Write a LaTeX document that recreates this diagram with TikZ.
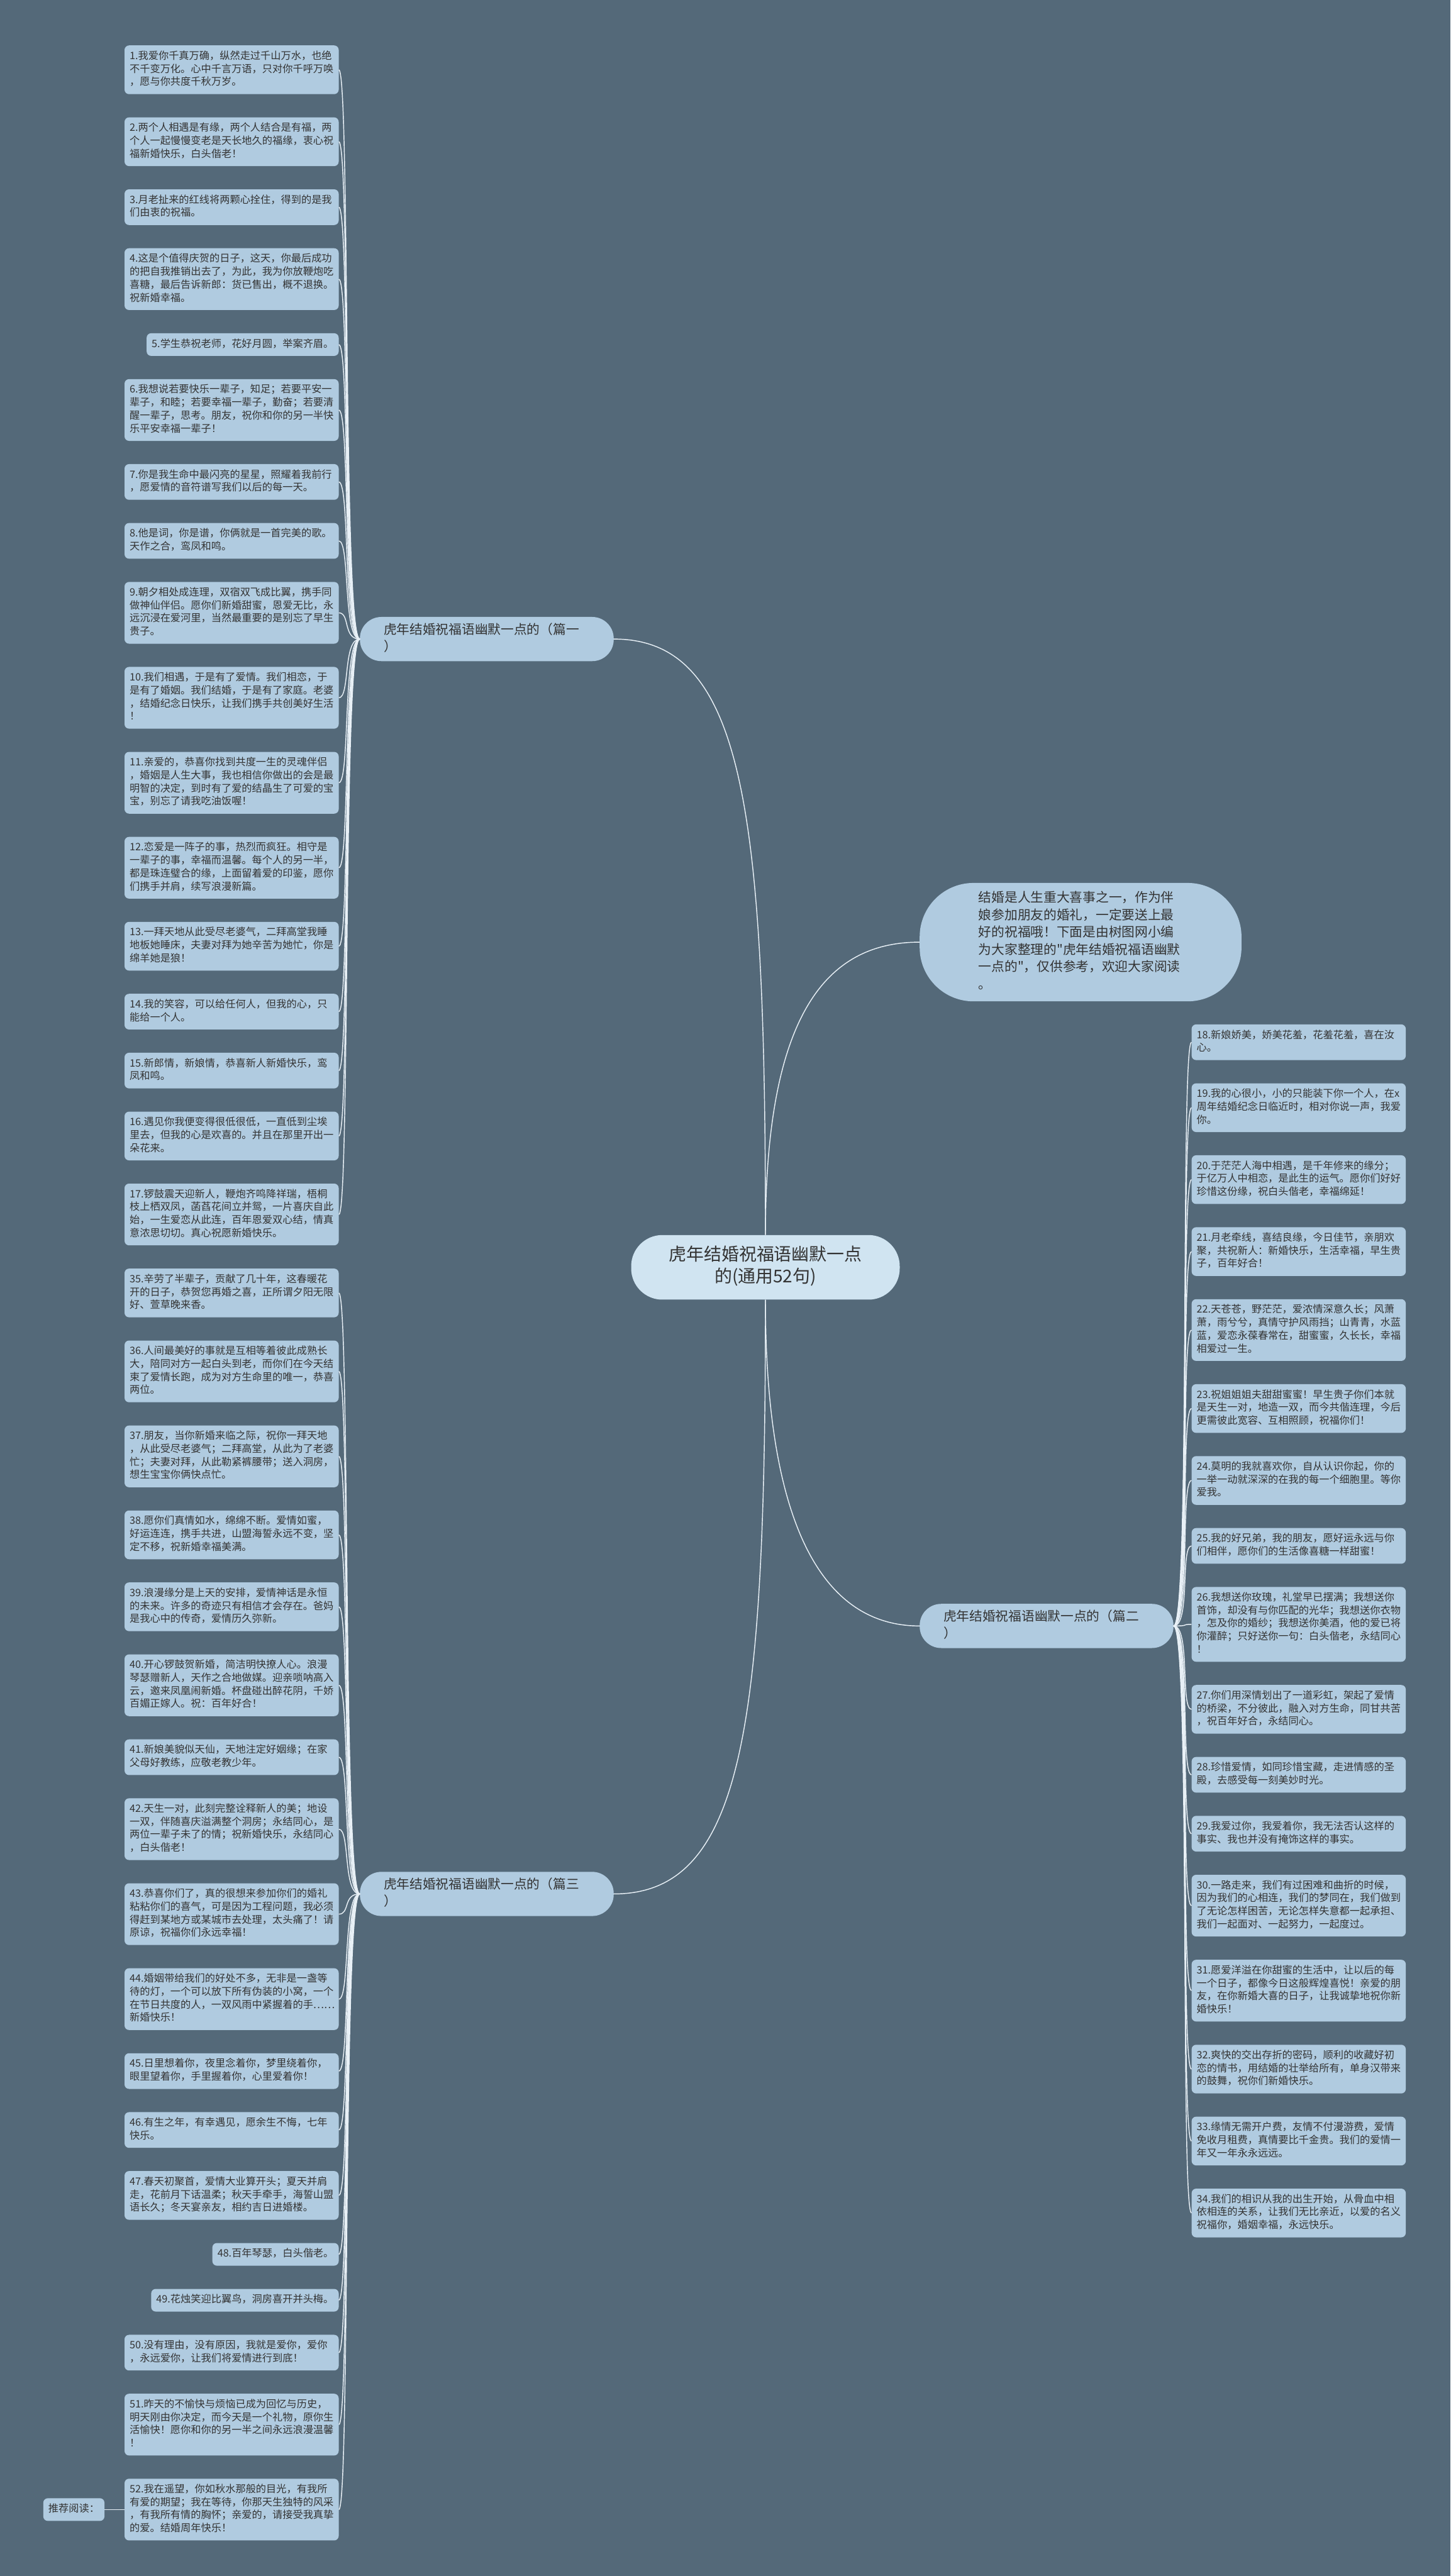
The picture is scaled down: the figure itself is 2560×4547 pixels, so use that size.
\documentclass[tikz,border=0pt]{standalone}
\usepackage{fontspec}
\newfontfamily\cjkfont{Noto Sans CJK SC}
\usetikzlibrary{positioning}

\definecolor{bgslate}{RGB}{84,105,121}
\definecolor{boxblue}{RGB}{176,203,224}
\definecolor{rootblue}{RGB}{208,228,241}
\definecolor{inkgray}{RGB}{51,51,51}
\definecolor{linkwhite}{RGB}{232,240,246}

\tikzset{
  itembase/.style={fill=boxblue, rounded corners=8pt, inner xsep=9pt, inner ysep=8.5pt,
    align=left, text=inkgray, font=\cjkfont\fontsize{18}{23}\selectfont,
    execute at begin node=\strut, execute at end node=\strut},
  item/.style={itembase, text width=360pt},
  branch/.style={fill=boxblue, rounded corners=38pt, inner xsep=42pt, inner ysep=9pt,
    text width=364pt, align=left, text=inkgray, font=\cjkfont\fontsize{23}{30}\selectfont,
    execute at begin node=\strut, execute at end node=\strut},
  intro/.style={fill=boxblue, rounded corners=95pt, inner xsep=104pt, inner ysep=13pt,
    text width=360pt, align=left, text=inkgray, font=\cjkfont\fontsize{23}{30.5}\selectfont,
    execute at begin node=\strut, execute at end node=\strut},
  root/.style={fill=rootblue, rounded corners=55pt, inner xsep=64pt, inner ysep=18pt,
    text width=346pt, align=center, text=inkgray, font=\cjkfont\fontsize{31}{39}\selectfont,
    execute at begin node=\strut, execute at end node=\strut},
  link/.style={draw=linkwhite, line width=1.6pt}
}

\begin{document}
\begin{tikzpicture}[x=1pt, y=-1pt]
\fill[bgslate] (0,0) rectangle (2560,4547);
\useasboundingbox (0,0) rectangle (2560,4547);

% centre, intro and the three branches
\node[root] (root) at (1351,2237) {虎年结婚祝福语幽默一点\\的(通用52句)};
\node[intro, anchor=west] (intro) at (1623,1663) {结婚是人生重大喜事之一，作为伴\\娘参加朋友的婚礼，一定要送上最\\好的祝福哦！下面是由树图网小编\\为大家整理的"虎年结婚祝福语幽默\\一点的"，仅供参考，欢迎大家阅读\\。};
\node[branch, anchor=west] (b1) at (635,1128) {虎年结婚祝福语幽默一点的（篇一\\）};
\node[branch, anchor=west] (b2) at (1623,2870) {虎年结婚祝福语幽默一点的（篇二\\）};
\node[branch, anchor=west] (b3) at (635,3343) {虎年结婚祝福语幽默一点的（篇三\\）};

% left column
\node[item, anchor=north east] (i1) at (598,80) {1.我爱你千真万确，纵然走过千山万水，也绝\\不千变万化。心中千言万语，只对你千呼万唤\\，愿与你共度千秋万岁。};
\node[item, below=40.6pt of i1.south east, anchor=north east] (i2) {2.两个人相遇是有缘，两个人结合是有福，两\\个人一起慢慢变老是天长地久的福缘，衷心祝\\福新婚快乐，白头偕老！};
\node[item, below=40.6pt of i2.south east, anchor=north east] (i3) {3.月老扯来的红线将两颗心拴住，得到的是我\\们由衷的祝福。};
\node[item, below=40.6pt of i3.south east, anchor=north east] (i4) {4.这是个值得庆贺的日子，这天，你最后成功\\的把自我推销出去了，为此，我为你放鞭炮吃\\喜糖，最后告诉新郎：货已售出，概不退换。\\祝新婚幸福。};
\node[itembase, below=40.6pt of i4.south east, anchor=north east] (i5) {5.学生恭祝老师，花好月圆，举案齐眉。};
\node[item, below=40.6pt of i5.south east, anchor=north east] (i6) {6.我想说若要快乐一辈子，知足；若要平安一\\辈子，和睦；若要幸福一辈子，勤奋；若要清\\醒一辈子，思考。朋友，祝你和你的另一半快\\乐平安幸福一辈子！};
\node[item, below=40.6pt of i6.south east, anchor=north east] (i7) {7.你是我生命中最闪亮的星星，照耀着我前行\\，愿爱情的音符谱写我们以后的每一天。};
\node[item, below=40.6pt of i7.south east, anchor=north east] (i8) {8.他是词，你是谱，你俩就是一首完美的歌。\\天作之合，鸾凤和鸣。};
\node[item, below=40.6pt of i8.south east, anchor=north east] (i9) {9.朝夕相处成连理，双宿双飞成比翼，携手同\\做神仙伴侣。愿你们新婚甜蜜，恩爱无比，永\\远沉浸在爱河里，当然最重要的是别忘了早生\\贵子。};
\node[item, below=40.6pt of i9.south east, anchor=north east] (i10) {10.我们相遇，于是有了爱情。我们相恋，于\\是有了婚姻。我们结婚，于是有了家庭。老婆\\，结婚纪念日快乐，让我们携手共创美好生活\\！};
\node[item, below=40.6pt of i10.south east, anchor=north east] (i11) {11.亲爱的，恭喜你找到共度一生的灵魂伴侣\\，婚姻是人生大事，我也相信你做出的会是最\\明智的决定，到时有了爱的结晶生了可爱的宝\\宝，别忘了请我吃油饭喔！};
\node[item, below=40.6pt of i11.south east, anchor=north east] (i12) {12.恋爱是一阵子的事，热烈而疯狂。相守是\\一辈子的事，幸福而温馨。每个人的另一半，\\都是珠连璧合的缘，上面留着爱的印鉴，愿你\\们携手并肩，续写浪漫新篇。};
\node[item, below=40.6pt of i12.south east, anchor=north east] (i13) {13.一拜天地从此受尽老婆气，二拜高堂我睡\\地板她睡床，夫妻对拜为她辛苦为她忙，你是\\绵羊她是狼！};
\node[item, below=40.6pt of i13.south east, anchor=north east] (i14) {14.我的笑容，可以给任何人，但我的心，只\\能给一个人。};
\node[item, below=40.6pt of i14.south east, anchor=north east] (i15) {15.新郎情，新娘情，恭喜新人新婚快乐，鸾\\凤和鸣。};
\node[item, below=40.6pt of i15.south east, anchor=north east] (i16) {16.遇见你我便变得很低很低，一直低到尘埃\\里去，但我的心是欢喜的。并且在那里开出一\\朵花来。};
\node[item, below=40.6pt of i16.south east, anchor=north east] (i17) {17.锣鼓震天迎新人，鞭炮齐鸣降祥瑞，梧桐\\枝上栖双凤，菡萏花间立并鸳，一片喜庆自此\\始，一生爱恋从此连，百年恩爱双心结，情真\\意浓思切切。真心祝愿新婚快乐。};
\node[item, below=40.6pt of i17.south east, anchor=north east] (i35) {35.辛劳了半辈子，贡献了几十年，这春暖花\\开的日子，恭贺您再婚之喜，正所谓夕阳无限\\好、萱草晚来香。};
\node[item, below=40.6pt of i35.south east, anchor=north east] (i36) {36.人间最美好的事就是互相等着彼此成熟长\\大，陪同对方一起白头到老，而你们在今天结\\束了爱情长跑，成为对方生命里的唯一，恭喜\\两位。};
\node[item, below=40.6pt of i36.south east, anchor=north east] (i37) {37.朋友，当你新婚来临之际，祝你一拜天地\\，从此受尽老婆气；二拜高堂，从此为了老婆\\忙；夫妻对拜，从此勒紧裤腰带；送入洞房，\\想生宝宝你俩快点忙。};
\node[item, below=40.6pt of i37.south east, anchor=north east] (i38) {38.愿你们真情如水，绵绵不断。爱情如蜜，\\好运连连，携手共进，山盟海誓永远不变，坚\\定不移，祝新婚幸福美满。};
\node[item, below=40.6pt of i38.south east, anchor=north east] (i39) {39.浪漫缘分是上天的安排，爱情神话是永恒\\的未来。许多的奇迹只有相信才会存在。爸妈\\是我心中的传奇，爱情历久弥新。};
\node[item, below=40.6pt of i39.south east, anchor=north east] (i40) {40.开心锣鼓贺新婚，简洁明快撩人心。浪漫\\琴瑟赠新人，天作之合地做媒。迎亲唢呐高入\\云，邀来凤凰闹新婚。杯盘碰出醉花阴，千娇\\百媚正嫁人。祝：百年好合！};
\node[item, below=40.6pt of i40.south east, anchor=north east] (i41) {41.新娘美貌似天仙，天地注定好姻缘；在家\\父母好教练，应敬老教少年。};
\node[item, below=40.6pt of i41.south east, anchor=north east] (i42) {42.天生一对，此刻完整诠释新人的美；地设\\一双，伴随喜庆溢满整个洞房；永结同心，是\\两位一辈子未了的情；祝新婚快乐，永结同心\\，白头偕老！};
\node[item, below=40.6pt of i42.south east, anchor=north east] (i43) {43.恭喜你们了，真的很想来参加你们的婚礼\\粘粘你们的喜气，可是因为工程问题，我必须\\得赶到某地方或某城市去处理，太头痛了！请\\原谅，祝福你们永远幸福！};
\node[item, below=40.6pt of i43.south east, anchor=north east] (i44) {44.婚姻带给我们的好处不多，无非是一盏等\\待的灯，一个可以放下所有伪装的小窝，一个\\在节日共度的人，一双风雨中紧握着的手……\\新婚快乐！};
\node[item, below=40.6pt of i44.south east, anchor=north east] (i45) {45.日里想着你，夜里念着你，梦里绕着你，\\眼里望着你，手里握着你，心里爱着你！};
\node[item, below=40.6pt of i45.south east, anchor=north east] (i46) {46.有生之年，有幸遇见，愿余生不悔，七年\\快乐。};
\node[item, below=40.6pt of i46.south east, anchor=north east] (i47) {47.春天初聚首，爱情大业算开头；夏天并肩\\走，花前月下话温柔；秋天手牵手，海誓山盟\\语长久；冬天宴亲友，相约吉日进婚楼。};
\node[itembase, below=40.6pt of i47.south east, anchor=north east] (i48) {48.百年琴瑟，白头偕老。};
\node[itembase, below=40.6pt of i48.south east, anchor=north east] (i49) {49.花烛笑迎比翼鸟，洞房喜开并头梅。};
\node[item, below=40.6pt of i49.south east, anchor=north east] (i50) {50.没有理由，没有原因，我就是爱你，爱你\\，永远爱你，让我们将爱情进行到底！};
\node[item, below=40.6pt of i50.south east, anchor=north east] (i51) {51.昨天的不愉快与烦恼已成为回忆与历史，\\明天刚由你决定，而今天是一个礼物，原你生\\活愉快！愿你和你的另一半之间永远浪漫温馨\\！};
\node[item, below=40.6pt of i51.south east, anchor=north east] (i52) {52.我在遥望，你如秋水那般的目光，有我所\\有爱的期望；我在等待，你那天生独特的风采\\，有我所有情的胸怀；亲爱的，请接受我真挚\\的爱。结婚周年快乐！};
\node[itembase, left=35pt of i52] (rec) {推荐阅读：};

% right column
\node[item, anchor=north west] (i18) at (2103,1808) {18.新娘娇美，娇美花羞，花羞花羞，喜在汝\\心。};
\node[item, below=40.6pt of i18.south west, anchor=north west] (i19) {19.我的心很小，小的只能装下你一个人，在x\\周年结婚纪念日临近时，相对你说一声，我爱\\你。};
\node[item, below=40.6pt of i19.south west, anchor=north west] (i20) {20.于茫茫人海中相遇，是千年修来的缘分；\\于亿万人中相恋，是此生的运气。愿你们好好\\珍惜这份缘，祝白头偕老，幸福绵延！};
\node[item, below=40.6pt of i20.south west, anchor=north west] (i21) {21.月老牵线，喜结良缘，今日佳节，亲朋欢\\聚，共祝新人：新婚快乐，生活幸福，早生贵\\子，百年好合！};
\node[item, below=40.6pt of i21.south west, anchor=north west] (i22) {22.天苍苍，野茫茫，爱浓情深意久长；风萧\\萧，雨兮兮，真情守护风雨挡；山青青，水蓝\\蓝，爱恋永葆春常在，甜蜜蜜，久长长，幸福\\相爱过一生。};
\node[item, below=40.6pt of i22.south west, anchor=north west] (i23) {23.祝姐姐姐夫甜甜蜜蜜！早生贵子你们本就\\是天生一对，地造一双，而今共偕连理，今后\\更需彼此宽容、互相照顾，祝福你们！};
\node[item, below=40.6pt of i23.south west, anchor=north west] (i24) {24.莫明的我就喜欢你，自从认识你起，你的\\一举一动就深深的在我的每一个细胞里。等你\\爱我。};
\node[item, below=40.6pt of i24.south west, anchor=north west] (i25) {25.我的好兄弟，我的朋友，愿好运永远与你\\们相伴，愿你们的生活像喜糖一样甜蜜！};
\node[item, below=40.6pt of i25.south west, anchor=north west] (i26) {26.我想送你玫瑰，礼堂早已摆满；我想送你\\首饰，却没有与你匹配的光华；我想送你衣物\\，怎及你的婚纱；我想送你美酒，他的爱已将\\你灌醉；只好送你一句：白头偕老，永结同心\\！};
\node[item, below=40.6pt of i26.south west, anchor=north west] (i27) {27.你们用深情划出了一道彩虹，架起了爱情\\的桥梁，不分彼此，融入对方生命，同甘共苦\\，祝百年好合，永结同心。};
\node[item, below=40.6pt of i27.south west, anchor=north west] (i28) {28.珍惜爱情，如同珍惜宝藏，走进情感的圣\\殿，去感受每一刻美妙时光。};
\node[item, below=40.6pt of i28.south west, anchor=north west] (i29) {29.我爱过你，我爱着你，我无法否认这样的\\事实、我也并没有掩饰这样的事实。};
\node[item, below=40.6pt of i29.south west, anchor=north west] (i30) {30.一路走来，我们有过困难和曲折的时候，\\因为我们的心相连，我们的梦同在，我们做到\\了无论怎样困苦，无论怎样失意都一起承担、\\我们一起面对、一起努力，一起度过。};
\node[item, below=40.6pt of i30.south west, anchor=north west] (i31) {31.愿爱洋溢在你甜蜜的生活中，让以后的每\\一个日子，都像今日这般辉煌喜悦！亲爱的朋\\友，在你新婚大喜的日子，让我诚挚地祝你新\\婚快乐！};
\node[item, below=40.6pt of i31.south west, anchor=north west] (i32) {32.爽快的交出存折的密码，顺利的收藏好初\\恋的情书，用结婚的壮举给所有，单身汉带来\\的鼓舞，祝你们新婚快乐。};
\node[item, below=40.6pt of i32.south west, anchor=north west] (i33) {33.缘情无需开户费，友情不付漫游费，爱情\\免收月租费，真情要比千金贵。我们的爱情一\\年又一年永永远远。};
\node[item, below=40.6pt of i33.south west, anchor=north west] (i34) {34.我们的相识从我的出生开始，从骨血中相\\依相连的关系，让我们无比亲近，以爱的名义\\祝福你，婚姻幸福，永远快乐。};

% connectors
\draw[link] (root.north) .. controls +(0,-380) and +(-170,0) .. (intro.west);
\draw[link] (root.north) .. controls +(0,-750) and +(230,0) .. (b1.east);
\draw[link] (root.south) .. controls +(0,400) and +(-170,0) .. (b2.west);
\draw[link] (root.south) .. controls +(0,750) and +(230,0) .. (b3.east);
\foreach \i in {1,...,17}
  \draw[link] (b1.west) .. controls +(-30,0) and +(20,0) .. (i\i.east);
\foreach \i in {35,...,52}
  \draw[link] (b3.west) .. controls +(-30,0) and +(20,0) .. (i\i.east);
\foreach \i in {18,...,34}
  \draw[link] (b2.east) .. controls +(30,0) and +(-20,0) .. (i\i.west);
\draw[link] (rec) -- (i52);
\end{tikzpicture}
\end{document}
